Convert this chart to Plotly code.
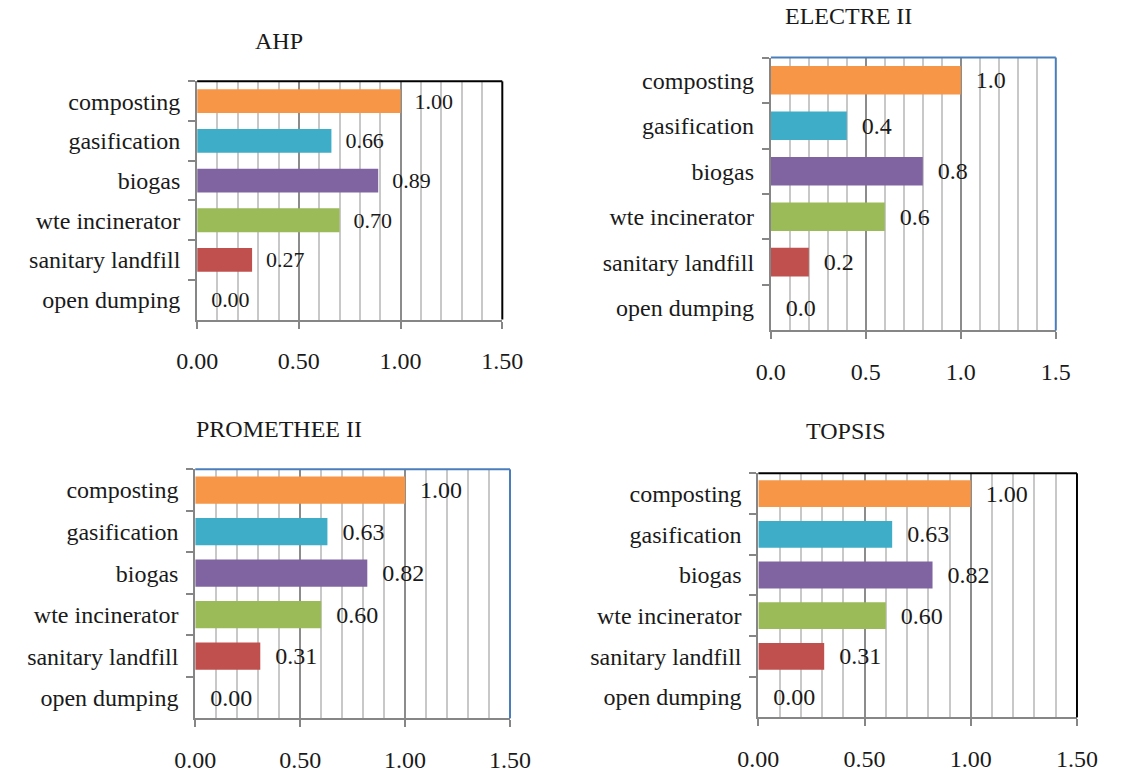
import plotly.graph_objects as go

W, H = 1123, 773

categories = ["composting", "gasification", "biogas", "wte incinerator",
              "sanitary landfill", "open dumping"]
bar_colors = ["#F79646", "#3DADC8", "#8064A2", "#9BBB59", "#C0504D", "#C0504D"]

ahp = [1.00, 0.66, 0.89, 0.70, 0.27, 0.00]
electre = [1.0, 0.4, 0.8, 0.6, 0.2, 0.0]
promethee = [1.00, 0.63, 0.82, 0.60, 0.31, 0.00]
topsis = [1.00, 0.63, 0.82, 0.60, 0.31, 0.00]

x_ticks = [0.0, 0.5, 1.0, 1.5]

FONT = "Liberation Serif, Times New Roman, serif"
FS = 24
AXIS_GRAY = "#868686"

# (title, values, decimals, plot box in px [x0, x1, y0, y1], bar width,
#  border colour, title centre in px)
panels = [
    ("AHP", ahp, 2, (183, 500, 82, 322), 0.60, "#000000", (268, 41)),
    ("ELECTRE II", electre, 1, (779, 1075, 58, 333), 0.63, "#4A7EBB", (860, 16)),
    ("PROMETHEE II", promethee, 2, (181, 508, 473, 724), 0.66, "#4A7EBB", (268, 432)),
    ("TOPSIS", topsis, 2, (766, 1097, 477, 723), 0.66, "#000000", (857, 434)),
]

fig = go.Figure()
layout = dict(
    width=W, height=H,
    margin=dict(l=0, r=0, t=0, b=0),
    paper_bgcolor="white", plot_bgcolor="white",
    showlegend=False,
    font=dict(family=FONT, size=FS, color="#1a1a1a"),
    annotations=[], shapes=[],
)

for i, (title, vals, dec, box, bw, border, tpos) in enumerate(panels, start=1):
    xa = "x" if i == 1 else f"x{i}"
    ya = "y" if i == 1 else f"y{i}"
    x0, x1, y0, y1 = box
    nbsp = "\u00a0\u00a0"
    fig.add_trace(go.Bar(
        x=vals, y=categories, orientation="h",
        marker=dict(color=bar_colors, line=dict(width=0)),
        width=bw,
        text=[f"{nbsp}{v:.{dec}f}" for v in vals],
        textposition="outside", cliponaxis=False,
        textfont=dict(family=FONT, size=FS, color="#1a1a1a"),
        xaxis=xa, yaxis=ya, hoverinfo="skip",
    ))
    layout[f"xaxis{'' if i == 1 else i}"] = dict(
        domain=[x0 / W, x1 / W], anchor=ya,
        range=[0, 1.5], tickvals=x_ticks,
        ticktext=[f"{t:.{dec}f}" for t in x_ticks],
        showgrid=True, gridcolor="#8C8C8C", gridwidth=2,
        minor=dict(dtick=0.1, tick0=0, showgrid=True, gridcolor="#C8C8C8", gridwidth=2),
        showline=True, linecolor=AXIS_GRAY, linewidth=2,
        ticks="outside", ticklen=7, tickwidth=2, tickcolor=AXIS_GRAY,
        ticklabelstandoff=12, zeroline=False, fixedrange=True,
        tickfont=dict(family=FONT, size=FS, color="#1a1a1a"),
    )
    layout[f"yaxis{'' if i == 1 else i}"] = dict(
        domain=[1 - y1 / H, 1 - y0 / H], anchor=xa,
        type="category", categoryorder="array", categoryarray=categories,
        autorange="reversed",
        showline=True, linecolor=AXIS_GRAY, linewidth=2,
        ticks="outside", ticklen=7, tickwidth=2, tickcolor=AXIS_GRAY,
        tickson="boundaries", ticklabelstandoff=10,
        showgrid=False, zeroline=False, fixedrange=True,
        tickfont=dict(family=FONT, size=FS, color="#1a1a1a"),
    )
    # top and right border of the plot area
    for sx0, sy0, sx1, sy1 in [(0, 1, 1, 1), (1, 0, 1, 1)]:
        layout["shapes"].append(dict(
            type="line", xref=f"{xa} domain", yref=f"{ya} domain",
            x0=sx0, y0=sy0, x1=sx1, y1=sy1,
            line=dict(color=border, width=2), layer="above",
        ))
    layout["annotations"].append(dict(
        text=title, xref="paper", yref="paper",
        x=tpos[0] / W, y=1 - tpos[1] / H, xanchor="center", yanchor="middle",
        showarrow=False, font=dict(family=FONT, size=FS, color="#1a1a1a"),
    ))

fig.update_layout(**layout)
fig.write_html("out.html")
